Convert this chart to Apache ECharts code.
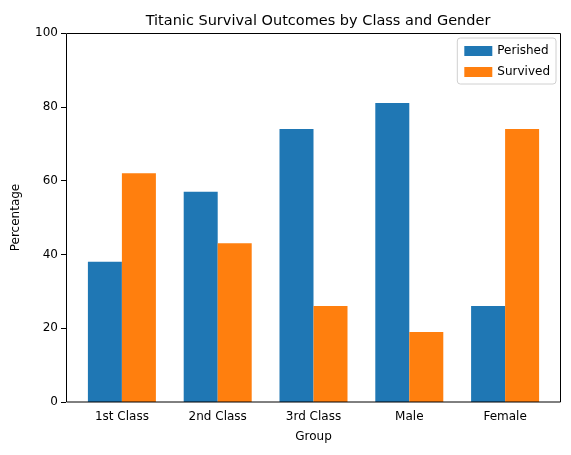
<!DOCTYPE html>
<html>
<head>
<meta charset="utf-8">
<script src="https://cdn.jsdelivr.net/npm/echarts@6/dist/echarts.min.js"></script>
<style>html,body{margin:0;padding:0;background:#fff}#chart{width:571px;height:455px}</style>
</head>
<body>
<div id="chart"></div>
<script>
var groups = ['1st Class', '2nd Class', '3rd Class', 'Male', 'Female'];
var perished = [38, 57, 74, 81, 26];
var survived = [62, 43, 26, 19, 74];
var yTicks = [0, 20, 40, 60, 80, 100];

var myChart = echarts.init(document.getElementById('chart'));
var font = 'DejaVu Sans';
var option = {
    animation: false,
    textStyle: { fontFamily: font },
    title: {
        text: 'Titanic Survival Outcomes by Class and Gender',
        left: 313, top: 9, textAlign: 'center',
        textStyle: { fontFamily: font, fontSize: 14.5, fontWeight: 'normal', color: '#000' }
    },
    legend: {
        right: 15, top: 38, orient: 'vertical', itemGap: 9,
        itemWidth: 28, itemHeight: 10, icon: 'rect',
        padding: [7, 6, 6, 7],
        borderColor: '#d0d0d0', borderWidth: 1, borderRadius: 3,
        textStyle: { fontFamily: font, fontSize: 12, color: '#000' },
        data: ['Perished', 'Survived']
    },
    grid: { left: 74, right: 18, top: 33, bottom: 53 },
    graphic: [{
        type: 'rect', shape: { x: 66.5, y: 33.5, width: 494, height: 368.5 },
        style: { fill: null, stroke: '#000', lineWidth: 1 }, silent: true, z: 100
    }],
    xAxis: {
        type: 'category', data: groups,
        name: 'Group', nameLocation: 'middle', nameGap: 29,
        nameTextStyle: { fontFamily: font, fontSize: 12, color: '#000' },
        axisLine: { show: false },
        axisTick: { alignWithLabel: true, length: 5, lineStyle: { color: '#000' } },
        axisLabel: { color: '#000', fontSize: 12, fontFamily: font, margin: 9 }
    },
    yAxis: {
        type: 'value', min: 0, max: 100, interval: 20, offset: 8,
        name: 'Percentage', nameLocation: 'middle', nameGap: 44,
        nameTextStyle: { fontFamily: font, fontSize: 12, color: '#000' },
        axisLine: { show: false },
        axisTick: { show: true, length: 5, lineStyle: { color: '#000' } },
        splitLine: { show: false },
        axisLabel: { color: '#000', fontSize: 12, fontFamily: font, margin: 8,
            formatter: function (v) { return yTicks.indexOf(v) >= 0 ? v : ''; } }
    },
    series: [
        { name: 'Perished', type: 'bar', data: perished, barGap: '0%', barWidth: 34,
          itemStyle: { color: '#1f77b4' } },
        { name: 'Survived', type: 'bar', data: survived, barWidth: 34,
          itemStyle: { color: '#ff7f0e' } }
    ]
};
myChart.setOption(option);
</script>
</body>
</html>
